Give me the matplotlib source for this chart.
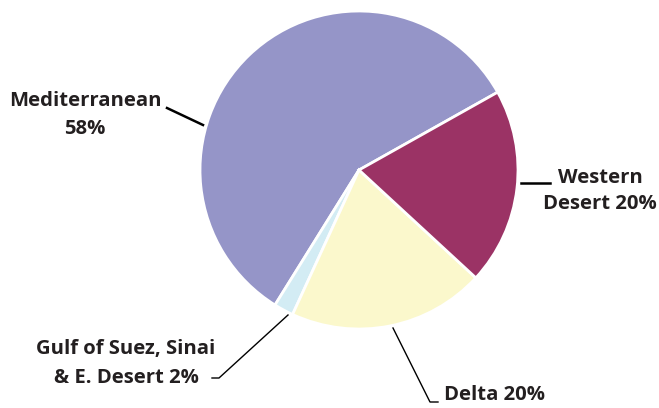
import matplotlib.pyplot as plt

# share of reserves by region
regions = ['Mediterranean', 'Gulf of Suez, Sinai & E. Desert', 'Delta', 'Western Desert']
shares = [58, 2, 20, 20]
colors = ['#9595c8', '#d3ecf4', '#fbf8cc', '#9b3365']

W, H = 659, 408
fig = plt.figure(figsize=(W / 100, H / 100), dpi=100)
ax = fig.add_axes([0, 0, 1, 1])
ax.axis('off')

ax.pie(shares, colors=colors, center=(359, H - 170), radius=159,
       startangle=29.3, counterclock=True,
       wedgeprops=dict(edgecolor='white', linewidth=2))
ax.set_xlim(0, W)
ax.set_ylim(0, H)
ax.set_aspect('auto')

tc = '#231f20'
fp = dict(fontsize=14.6, fontweight='bold', color=tc, family='Open Sans',
          ha='center', va='center')


def y(v):
    return H - v


# labels
ax.text(85, y(101), 'Mediterranean', **fp)
ax.text(85, y(129), '58%', **fp)
ax.plot([167, 203], [y(108), y(125)], color='black', lw=1.8)

ax.text(600, y(178), 'Western', **fp)
ax.text(600, y(204), 'Desert 20%', **fp)
ax.plot([521, 550], [y(183), y(183)], color='black', lw=1.8)

ax.text(126, y(349), 'Gulf of Suez, Sinai', **fp)
ax.text(126, y(378), '& E. Desert 2%', **fp)
ax.plot([212, 219, 288], [y(378), y(378), y(315)], color='black', lw=1)

ax.text(495, y(395), 'Delta 20%', **fp)
ax.plot([393, 430, 438], [y(328), y(402), y(402)], color='black', lw=1)

fig.savefig('out.png', dpi=100)
